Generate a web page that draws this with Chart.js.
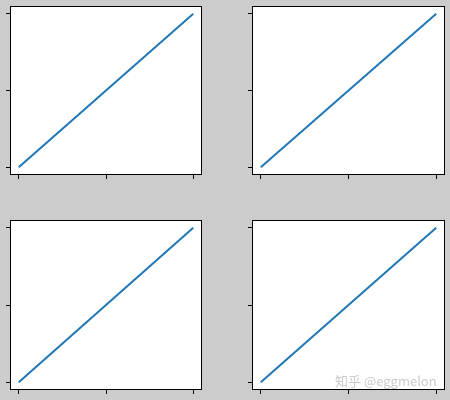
<!DOCTYPE html>
<html>
<head>
<meta charset="utf-8">
<script src="https://cdn.jsdelivr.net/npm/chart.js@4/dist/chart.umd.min.js"></script>
<style>
  html, body { margin: 0; padding: 0; }
  body { width: 450px; height: 400px; background: #cccccc; position: relative; overflow: hidden; }
  .cell { position: absolute; }
  #mark {
    position: absolute; left: 335px; top: 371px;
    font-family: "Noto Sans CJK SC", "Noto Sans", sans-serif;
    font-size: 13px; color: rgba(195, 195, 195, 0.9); white-space: nowrap;
  }
</style>
</head>
<body>
<div class="cell" id="c0"><canvas id="ax0"></canvas></div>
<div class="cell" id="c1"><canvas id="ax1"></canvas></div>
<div class="cell" id="c2"><canvas id="ax2"></canvas></div>
<div class="cell" id="c3"><canvas id="ax3"></canvas></div>
<div id="mark">知乎 @eggmelon</div>
<script>
// 2x2 subplots, each the same straight line

const xValues = [0, 1, 2];
const yValues = [0, 1, 2];
const xTicks = [0, 1, 2];
const yTicks = [0, 1, 2];

// axes boxes in the figure: left, top, width, height
const boxes = [
  [10, 6, 192, 169],
  [252, 6, 193, 169],
  [10, 220, 192, 170],
  [252, 220, 193, 170]
];

const frame = {
  id: "frame",
  beforeDraw(chart) {
    const a = chart.chartArea;
    const ctx = chart.ctx;
    ctx.save();
    ctx.fillStyle = "#ffffff";
    ctx.fillRect(a.left, a.top, a.right - a.left, a.bottom - a.top);
    ctx.restore();
  },
  afterDraw(chart) {
    const a = chart.chartArea;
    const ctx = chart.ctx;
    ctx.save();
    ctx.strokeStyle = "#000000";
    ctx.lineWidth = 1;
    ctx.strokeRect(a.left + 0.5, a.top + 0.5, a.right - a.left - 1, a.bottom - a.top - 1);
    ctx.restore();
  }
};

const axis = (pos, tickValues) => ({
  type: "linear",
  position: pos,
  min: -0.1,
  max: 2.1,
  afterBuildTicks: s => { s.ticks = tickValues.map(v => ({ value: v })); },
  ticks: { display: false },
  border: { display: false },
  grid: {
    drawOnChartArea: false,
    drawTicks: true,
    tickLength: 4,
    tickWidth: 1,
    color: "#000000"
  }
});

boxes.forEach(([left, top, w, h], i) => {

  const cell = document.getElementById("c" + i);
  cell.style.left = (left - 8) + "px";
  cell.style.top = (top - 4) + "px";
  cell.style.width = (w + 12) + "px";
  cell.style.height = (h + 12) + "px";

  new Chart(document.getElementById("ax" + i), {
    type: "line",
    data: {
      datasets: [{
        data: xValues.map((x, k) => ({ x: x, y: yValues[k] })),
        borderColor: "#1f77b4",
        borderWidth: 2,
        pointRadius: 0,
        tension: 0,
        fill: false
      }]
    },
    options: {
      responsive: true,
      maintainAspectRatio: false,
      animation: false,
      devicePixelRatio: 1,
      layout: { padding: { left: 4, top: 4, right: 4, bottom: 4 } },
      plugins: { legend: { display: false }, tooltip: { enabled: false } },
      scales: {
        x: axis("bottom", xTicks),
        y: axis("left", yTicks)
      }
    },
    plugins: [frame]
  });

});
</script>
</body>
</html>
